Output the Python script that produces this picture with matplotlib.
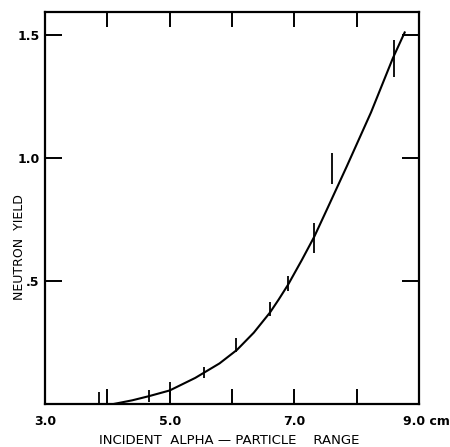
"""Neutron yield vs incident alpha-particle range (redrawn from a scanned figure)."""

import matplotlib

matplotlib.use("Agg")
import matplotlib.pyplot as plt
from matplotlib.transforms import ScaledTranslation

# measured points with vertical error bars
point_range = [3.87, 4.67, 5.0, 5.55, 6.07, 6.61, 6.9, 7.32, 7.61, 8.6]
point_yield = [0.024, 0.033, 0.063, 0.128, 0.24, 0.386, 0.49, 0.675, 0.957, 1.404]
point_error = [0.024, 0.024, 0.026, 0.022, 0.028, 0.028, 0.03, 0.061, 0.063, 0.075]

# smooth curve drawn through the data
curve_range = [4.1, 4.4, 4.67, 5.0, 5.41, 5.8, 6.08, 6.35, 6.61, 6.75, 6.9,
               7.12, 7.32, 7.54, 7.84, 8.23, 8.58, 8.77]
curve_yield = [0.0, 0.015, 0.032, 0.055, 0.106, 0.165, 0.22, 0.29, 0.372,
               0.425, 0.485, 0.585, 0.68, 0.80, 0.965, 1.185, 1.405, 1.51]

x_ticks = [3.0, 4.0, 5.0, 6.0, 7.0, 8.0, 9.0]
x_tick_text = ["3.0", "", "5.0", "", "7.0", "", "9.0 cm"]
y_ticks = [0.5, 1.0, 1.5]
y_tick_text = [".5", "1.0", "1.5"]

plt.rcParams["font.family"] = ["DejaVu Sans"]

fig = plt.figure(figsize=(4.5, 4.47), dpi=100)
ax = fig.add_axes([45 / 450, 43 / 447, 374 / 450, 392 / 447])

ax.plot(curve_range, curve_yield, color="black", linewidth=1.5,
        solid_joinstyle="round")
ax.errorbar(point_range, point_yield, yerr=point_error, fmt="none",
            ecolor="black", elinewidth=1.3, capsize=0)

ax.set_xlim(3.0, 9.0)
ax.set_ylim(0, 1.593)

ax.set_xticks(x_ticks)
ax.set_xticklabels(x_tick_text, fontsize=9, fontweight="bold")
ax.tick_params(axis="x", direction="in", length=11, width=1.4,
               top=True, bottom=True, pad=8)

ax.set_yticks(y_ticks)
ax.set_yticklabels(y_tick_text, fontsize=9, fontweight="bold")
ax.tick_params(axis="y", direction="in", length=12, width=1.4,
               left=True, right=True, pad=4)

# push the "9.0 cm" label so that 9.0 sits under the corner
last_label = ax.get_xticklabels()[-1]
last_label.set_horizontalalignment("left")
last_label.set_transform(last_label.get_transform()
                         + ScaledTranslation(-0.16, 0, fig.dpi_scale_trans))

for spine in ax.spines.values():
    spine.set_linewidth(1.6)

fig.text(229 / 450, 1 - 440 / 447, "INCIDENT  ALPHA — PARTICLE    RANGE",
         ha="center", va="center", fontsize=9.5)
fig.text(20 / 450, 1 - 247 / 447, "NEUTRON  YIELD", rotation=90,
         ha="center", va="center", fontsize=9)

fig.savefig("out.png", dpi=100)
